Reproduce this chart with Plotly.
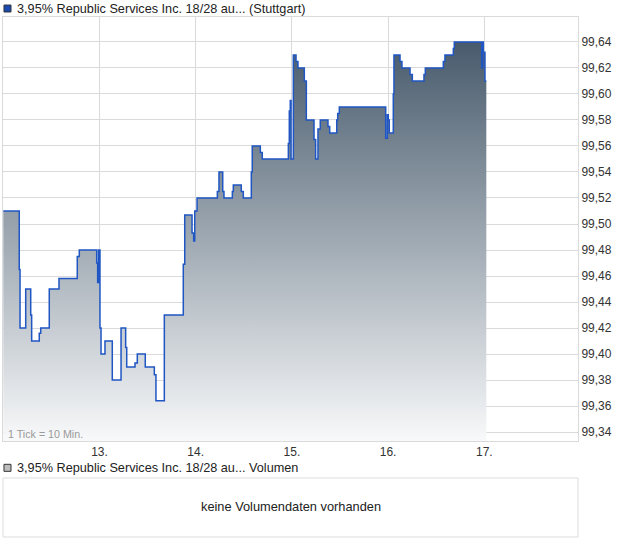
import plotly.graph_objects as go

# Zeitachse in Tagen (Bruchteile), Kurs in Prozent
tage = [
    12.000, 12.166, 12.174, 12.233, 12.285, 12.295, 12.374, 12.389, 12.478, 12.579,
    12.769, 12.790, 12.971, 12.981, 12.990, 13.005, 13.016, 13.057, 13.133, 13.224,
    13.272, 13.283, 13.369, 13.393, 13.476, 13.570, 13.587, 13.674, 13.871, 13.886,
    13.962, 13.979, 13.990, 14.014, 14.225, 14.242, 14.281, 14.294, 14.381, 14.391,
    14.474, 14.495, 14.578, 14.588, 14.672, 14.692, 14.963, 14.973, 14.983, 14.991,
    15.015, 15.043, 15.063, 15.129, 15.150, 15.230, 15.247, 15.271, 15.295, 15.375,
    15.393, 15.466, 15.476, 15.493, 15.975, 15.992, 16.002, 16.012, 16.054, 16.061,
    16.124, 16.144, 16.228, 16.252, 16.373, 16.387, 16.574, 16.591, 16.678, 16.688,
    16.973, 16.983, 16.990, 17.007, 17.021,
]
kurse = [
    99.51, 99.465, 99.42, 99.45, 99.43, 99.41, 99.416, 99.42, 99.45, 99.458,
    99.475, 99.48, 99.47, 99.455, 99.48, 99.42, 99.40, 99.41, 99.38, 99.42,
    99.405, 99.39, 99.393, 99.40, 99.39, 99.384, 99.364, 99.43, 99.469, 99.507,
    99.493, 99.487, 99.51, 99.52, 99.525, 99.54, 99.525, 99.52, 99.525, 99.53,
    99.525, 99.52, 99.54, 99.56, 99.555, 99.55, 99.562, 99.587, 99.595, 99.55,
    99.63, 99.625, 99.62, 99.61, 99.58, 99.565, 99.55, 99.573, 99.58, 99.575,
    99.57, 99.58, 99.585, 99.59, 99.566, 99.584, 99.58, 99.57, 99.60, 99.63,
    99.625, 99.62, 99.615, 99.61, 99.615, 99.62, 99.625, 99.63, 99.635, 99.64,
    99.62, 99.64, 99.632, 99.61, 99.61,
]

x_ticks = [13, 14, 15, 16, 17]
x_labels = ["13.", "14.", "15.", "16.", "17."]
y_ticks = [99.34, 99.36, 99.38, 99.40, 99.42, 99.44, 99.46, 99.48, 99.50,
           99.52, 99.54, 99.56, 99.58, 99.60, 99.62, 99.64]

titel = "3,95% Republic Services Inc. 18/28 au..."
FONT = "Liberation Sans, Arial, sans-serif"
GRID = "#dadada"

fig = go.Figure()

fig.add_trace(go.Scatter(
    x=tage,
    y=kurse,
    mode="lines",
    line=dict(color="#1f56c3", width=1.5, shape="hv"),
    fill="tozeroy",
    fillgradient=dict(
        type="vertical",
        start=99.333,
        stop=99.645,
        colorscale=[[0, "#f8f9fa"], [1, "#45586a"]],
    ),
    hoverinfo="skip",
    showlegend=False,
))

# Legende oben
fig.add_shape(type="rect", xref="paper", yref="paper",
              x0=0.0017, x1=0.0139, y0=1.0096, y1=1.023,
              fillcolor="#1b49b0", line=dict(color="#333333", width=1))
fig.add_annotation(x=0.0209, y=1.0154, xref="paper", yref="paper",
                   text=titel + " (Stuttgart)", showarrow=False,
                   xanchor="left", yanchor="middle",
                   font=dict(family=FONT, size=12.7, color="#222222"))

fig.add_annotation(x=0.0052, y=0.198, xref="paper", yref="paper",
                   text="1 Tick = 10 Min.", showarrow=False,
                   xanchor="left", yanchor="middle",
                   font=dict(family=FONT, size=10.7, color="#9a9a9a"))

# Volumen-Bereich
fig.add_shape(type="rect", xref="paper", yref="paper",
              x0=0.0017, x1=0.0139, y0=0.1263, y1=0.1398,
              fillcolor="#bdbdbd", line=dict(color="#333333", width=1))
fig.add_annotation(x=0.0209, y=0.1327, xref="paper", yref="paper",
                   text=titel + " Volumen", showarrow=False,
                   xanchor="left", yanchor="middle",
                   font=dict(family=FONT, size=12.7, color="#222222"))
fig.add_shape(type="rect", xref="paper", yref="paper",
              x0=0, x1=1, y0=0, y1=0.1135,
              line=dict(color="#dddddd", width=1))
fig.add_annotation(x=0.5, y=0.0577, xref="paper", yref="paper",
                   text="keine Volumendaten vorhanden", showarrow=False,
                   xanchor="center", yanchor="middle",
                   font=dict(family=FONT, size=12.8, color="#222222"))

fig.update_layout(
    width=620,
    height=546,
    margin=dict(l=3, r=42, t=17, b=9),
    paper_bgcolor="white",
    plot_bgcolor="white",
    separators=",.",
    font=dict(family=FONT, size=12, color="#333333"),
)
fig.update_xaxes(
    range=[11.997, 17.974],
    tickvals=x_ticks,
    ticktext=x_labels,
    showgrid=True, gridcolor=GRID, gridwidth=1,
    showline=True, linecolor=GRID, mirror=True,
    zeroline=False, ticks="",
)
fig.update_yaxes(
    domain=[0.1846, 1],
    range=[99.3331, 99.6592],
    side="right",
    tickvals=y_ticks,
    tickformat=".2f",
    showgrid=True, gridcolor=GRID, gridwidth=1,
    showline=True, linecolor=GRID, mirror=True,
    zeroline=False, ticks="",
)

# Seitenrand entfernen, damit das Diagramm bei (0,0) beginnt
fig.write_html("out.html", config={"displayModeBar": False},
               post_script="document.body.style.margin='0';")
